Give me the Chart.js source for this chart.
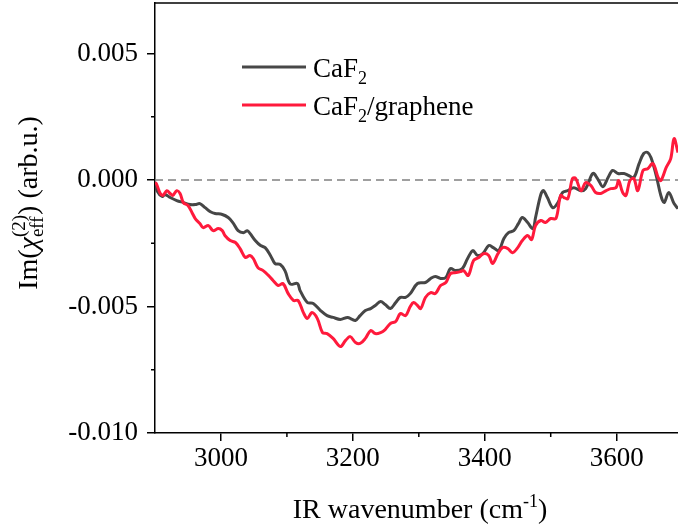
<!DOCTYPE html>
<html>
<head>
<meta charset="utf-8">
<script src="https://cdn.jsdelivr.net/npm/chart.js@4.4.0/dist/chart.umd.min.js"></script>
<style>
body { margin: 0; background: #fff; }
</style>
</head>
<body>
<canvas id="myChart" width="678" height="529"></canvas>
<script>
// wavenumber (cm-1) and Im(chi2)
var caf2X = [2900, 2903, 2911, 2915, 2923, 2933, 2943, 2953, 2961, 2968,
    2976, 2984, 2991, 3002, 3011, 3018, 3026, 3034, 3040, 3044,
    3052, 3060, 3067, 3075, 3082, 3090, 3097, 3105, 3116, 3120,
    3131, 3140, 3151, 3161, 3170, 3181, 3192, 3199, 3204, 3211,
    3219, 3227, 3234, 3242, 3249, 3257, 3265, 3272, 3280, 3287,
    3298, 3310, 3318, 3325, 3333, 3341, 3348, 3356, 3366, 3374,
    3382, 3389, 3397, 3406, 3413, 3421, 3429, 3436, 3444, 3451,
    3457, 3465, 3473, 3477, 3485, 3489, 3495, 3503, 3511, 3518,
    3526, 3535, 3546, 3553, 3564, 3571, 3579, 3587, 3594, 3602,
    3611, 3618, 3626, 3634, 3641, 3647, 3652, 3660, 3667, 3672,
    3679, 3687, 3693];
var caf2Y = [-0.0001, -0.00042, -0.00065, -0.00057, -0.00069, -0.00081, -0.00089, -0.00097, -0.00097, -0.00093,
    -0.00109, -0.00125, -0.00132, -0.00136, -0.00148, -0.00168, -0.00200, -0.00208, -0.00200, -0.00211,
    -0.00239, -0.00259, -0.00267, -0.00298, -0.00330, -0.00334, -0.00358, -0.00411, -0.00409, -0.00437,
    -0.00484, -0.00488, -0.00516, -0.00536, -0.00543, -0.00551, -0.00543, -0.00551, -0.00555, -0.00536,
    -0.00516, -0.00508, -0.00496, -0.00480, -0.00492, -0.00508, -0.00484, -0.00464, -0.00464, -0.00449,
    -0.00409, -0.00405, -0.00389, -0.00381, -0.00389, -0.00385, -0.00350, -0.00358, -0.00350, -0.00310,
    -0.00279, -0.00298, -0.00291, -0.00259, -0.00267, -0.00279, -0.00231, -0.00208, -0.00200, -0.00172,
    -0.00148, -0.00168, -0.00192, -0.00148, -0.00057, -0.00042, -0.00069, -0.00109, -0.00089, -0.00049,
    -0.00042, -0.00030, -0.00042, -0.00034, 0.00026, 0.00006, -0.00026, 0.00010, 0.00038, 0.00026,
    0.00026, 0.00018, 0.00010, 0.00065, 0.00105, 0.00109, 0.00089, 0.00018, -0.00061, -0.00089,
    -0.00049, -0.00093, -0.00113];

var grapheneX = [2900, 2902, 2908, 2912, 2918, 2923, 2927, 2933, 2938, 2943,
    2950, 2956, 2961, 2968, 2973, 2981, 2988, 2996, 3002, 3006,
    3014, 3022, 3029, 3037, 3044, 3049, 3056, 3064, 3072, 3079,
    3087, 3094, 3102, 3110, 3117, 3125, 3131, 3138, 3146, 3154,
    3161, 3170, 3181, 3189, 3196, 3204, 3211, 3219, 3227, 3234,
    3242, 3249, 3257, 3265, 3272, 3280, 3287, 3292, 3298, 3303,
    3310, 3318, 3325, 3333, 3341, 3348, 3356, 3363, 3368, 3375,
    3383, 3391, 3398, 3406, 3412, 3420, 3427, 3435, 3442, 3450,
    3457, 3465, 3471, 3477, 3485, 3492, 3500, 3508, 3515, 3520,
    3526, 3533, 3538, 3546, 3553, 3561, 3568, 3576, 3584, 3591,
    3599, 3603, 3609, 3614, 3620, 3626, 3632, 3640, 3647, 3655,
    3663, 3667, 3675, 3682, 3687, 3693];
var grapheneY = [-0.0001, -0.00014, -0.00053, -0.00061, -0.00042, -0.00053, -0.00061, -0.00042, -0.00053, -0.00089,
    -0.00101, -0.00128, -0.00152, -0.00172, -0.00188, -0.00180, -0.00200, -0.00192, -0.00200, -0.00219,
    -0.00239, -0.00247, -0.00271, -0.00306, -0.00298, -0.00310, -0.00346, -0.00358, -0.00377, -0.00397,
    -0.00417, -0.00409, -0.00449, -0.00476, -0.00476, -0.00524, -0.00547, -0.00524, -0.00547, -0.00603,
    -0.00607, -0.00626, -0.00658, -0.00634, -0.00619, -0.00642, -0.00646, -0.00626, -0.00595, -0.00607,
    -0.00603, -0.00591, -0.00567, -0.00559, -0.00528, -0.00536, -0.00500, -0.00484, -0.00496, -0.00508,
    -0.00464, -0.00445, -0.00449, -0.00417, -0.00405, -0.00370, -0.00366, -0.00362, -0.00358, -0.00377,
    -0.00318, -0.00306, -0.00291, -0.00298, -0.00330, -0.00291, -0.00267, -0.00271, -0.00287, -0.00267,
    -0.00239, -0.00219, -0.00235, -0.00180, -0.00160, -0.00168, -0.00152, -0.00152, -0.00061, -0.00069,
    -0.00073, 0.00006, 0.00006, -0.00042, -0.00010, -0.00022, -0.00049, -0.00053, -0.00042, -0.00034,
    -0.00030, -0.00002, -0.00049, -0.00061, -0.00002, 0.00006, -0.00042, 0.00038, 0.00045, 0.00065,
    0.00010, -0.00002, 0.00049, 0.00085, 0.00164, 0.00109];

var xMin = 2900, xMax = 3693;
var yMin = -0.010, yMax = 0.007;
var xTicks = [3000, 3200, 3400, 3600];
var xMinorTicks = [3100, 3300, 3500];
var yTicks = [-0.010, -0.005, 0.000, 0.005];
var yMinorTicks = [-0.0075, -0.0025, 0.0025];

var FONT = '"Liberation Serif", "Times New Roman", serif';

function toPoints(xs, ys) {
    return xs.map(function (x, i) { return { x: x, y: ys[i] }; });
}

// draws text pieces with sub/superscripts, parts with stack:true don't advance
function drawRich(ctx, parts, x, y, center) {
    var total = 0, pend = 0;
    parts.forEach(function (p) {
        ctx.font = (p.i ? 'italic ' : '') + p.s + 'px ' + FONT;
        var w = ctx.measureText(p.t).width;
        if (p.stack) { pend = w; } else { total += Math.max(w, pend); pend = 0; }
    });
    var cx = center ? x - total / 2 : x;
    pend = 0;
    parts.forEach(function (p) {
        ctx.font = (p.i ? 'italic ' : '') + p.s + 'px ' + FONT;
        var w = ctx.measureText(p.t).width;
        ctx.fillText(p.t, cx, y + (p.dy || 0));
        if (p.stack) { pend = w; } else { cx += Math.max(w, pend); pend = 0; }
    });
}

var decor = {
    id: 'decor',
    afterDraw: function (chart) {
        var ctx = chart.ctx, area = chart.chartArea;
        var xs = chart.scales.x, ys = chart.scales.y;
        ctx.save();
        ctx.strokeStyle = '#000';
        ctx.lineWidth = 1.5;
        // top frame
        ctx.beginPath();
        ctx.moveTo(area.left, area.top);
        ctx.lineTo(area.right, area.top);
        ctx.stroke();
        // minor ticks
        ctx.beginPath();
        xMinorTicks.forEach(function (v) {
            var px = xs.getPixelForValue(v);
            ctx.moveTo(px, area.bottom);
            ctx.lineTo(px, area.bottom + 4);
        });
        yMinorTicks.forEach(function (v) {
            var py = ys.getPixelForValue(v);
            ctx.moveTo(area.left, py);
            ctx.lineTo(area.left - 4, py);
        });
        ctx.stroke();

        ctx.fillStyle = '#000';
        ctx.textAlign = 'left';
        ctx.textBaseline = 'alphabetic';

        // legend
        var rows = [
            { color: '#484848', y: 67, parts: [{ t: 'CaF', s: 27 }, { t: '2', s: 18, dy: 7 }] },
            { color: '#ff1a3c', y: 105, parts: [{ t: 'CaF', s: 27 }, { t: '2', s: 18, dy: 7 }, { t: '/graphene', s: 27 }] }
        ];
        rows.forEach(function (r) {
            ctx.strokeStyle = r.color;
            ctx.lineWidth = 3;
            ctx.beginPath();
            ctx.moveTo(242, r.y);
            ctx.lineTo(306, r.y);
            ctx.stroke();
            drawRich(ctx, r.parts, 313, r.y + 10, false);
        });

        // x title
        drawRich(ctx, [{ t: 'IR wavenumber (cm', s: 28 }, { t: '-1', s: 18, dy: -11 }, { t: ')', s: 28 }], 420, 518, true);

        // y title
        ctx.translate(37, 203);
        ctx.rotate(-Math.PI / 2);
        drawRich(ctx, [{ t: 'Im(', s: 28 }, { t: 'χ', s: 28, i: true }, { t: '(2)', s: 19, dy: -12, stack: true },
            { t: 'eff', s: 19, dy: 6 }, { t: ') (arb.u.)', s: 28 }], 0, 0, true);
        ctx.restore();
    }
};

var ctx = document.getElementById('myChart').getContext('2d');
var myChart = new Chart(ctx, {
    type: 'line',
    data: {
        datasets: [{
            label: 'CaF2/graphene',
            data: toPoints(grapheneX, grapheneY),
            borderColor: '#ff1a3c',
            borderWidth: 3,
            pointRadius: 0,
            tension: 0.35,
            order: 1
        }, {
            label: 'CaF2',
            data: toPoints(caf2X, caf2Y),
            borderColor: '#464646',
            borderWidth: 3,
            pointRadius: 0,
            tension: 0.35,
            order: 2
        }, {
            label: 'zero',
            data: [{ x: xMin, y: 0 }, { x: xMax, y: 0 }],
            borderColor: '#808080',
            borderWidth: 1.5,
            borderDash: [8, 5],
            pointRadius: 0,
            order: 3
        }]
    },
    options: {
        responsive: false,
        animation: false,
        layout: { padding: { top: 3, right: 0, left: 0, bottom: 0 } },
        plugins: { legend: { display: false }, tooltip: { enabled: false } },
        scales: {
            x: {
                type: 'linear',
                min: xMin,
                max: xMax,
                afterBuildTicks: function (s) { s.ticks = xTicks.map(function (v) { return { value: v }; }); },
                afterFit: function (s) { s.height = 96; s.paddingLeft = 0; s.paddingRight = 0; },
                ticks: {
                    font: { family: FONT, size: 27 },
                    color: '#000',
                    padding: 2,
                    maxRotation: 0,
                    autoSkip: false,
                    callback: function (v) { return String(v); }
                },
                grid: { drawOnChartArea: false, tickLength: 8, color: '#000', lineWidth: 1.5 },
                border: { color: '#000', width: 1.5 }
            },
            y: {
                min: yMin,
                max: yMax,
                afterBuildTicks: function (s) { s.ticks = yTicks.map(function (v) { return { value: v }; }); },
                afterFit: function (s) { s.width = 155; s.paddingTop = 0; s.paddingBottom = 0; },
                ticks: {
                    font: { family: FONT, size: 27 },
                    color: '#000',
                    padding: 9,
                    callback: function (v) { return v.toFixed(3); }
                },
                grid: { drawOnChartArea: false, tickLength: 8, color: '#000', lineWidth: 1.5 },
                border: { color: '#000', width: 1.5 }
            }
        }
    },
    plugins: [decor]
});
</script>
</body>
</html>
